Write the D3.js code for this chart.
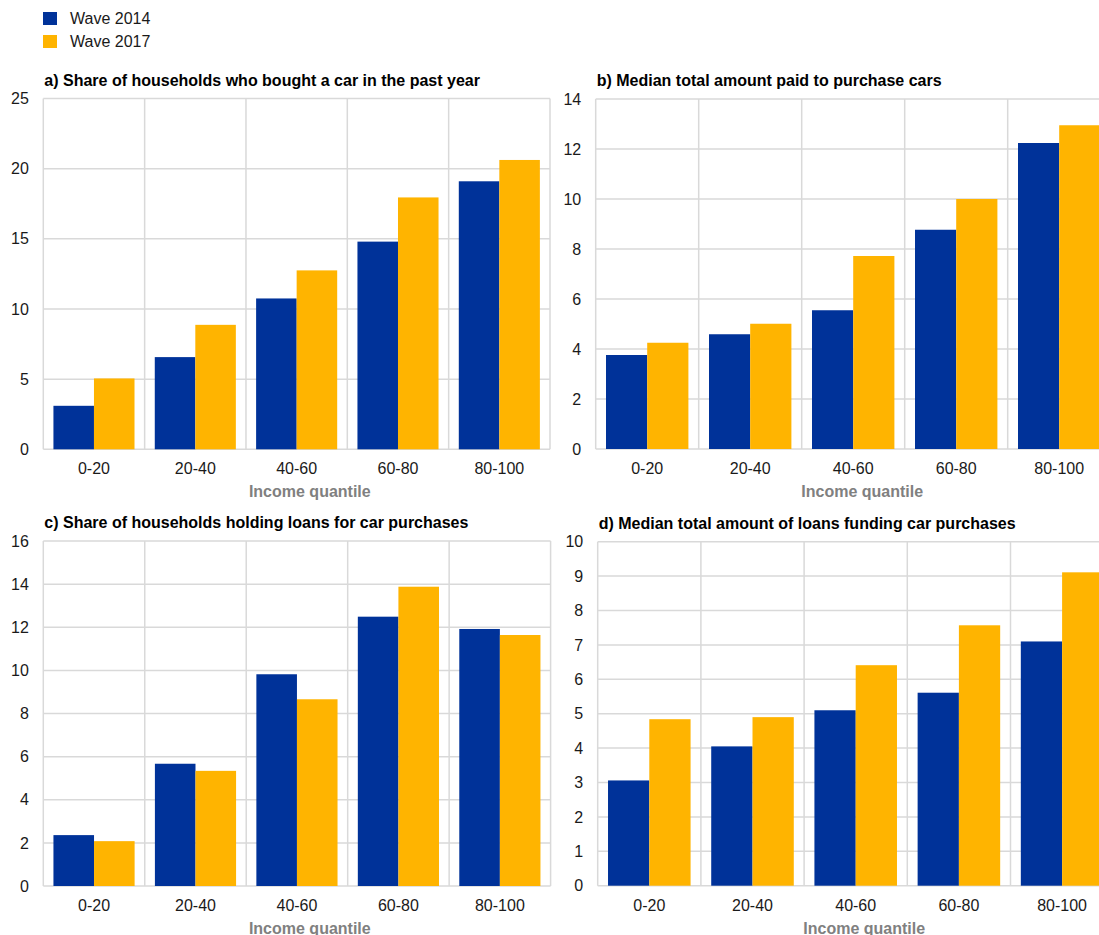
<!DOCTYPE html>
<html><head><meta charset="utf-8">
<script src="https://cdn.jsdelivr.net/npm/d3@7"></script>
<style>
body{margin:0;background:#fff}
svg{display:block;font-family:"Liberation Sans",Arial,sans-serif}
</style></head>
<body><svg id="chart" width="1099" height="935"></svg>
<script>
// ---- data ----
const categories = ["0-20", "20-40", "40-60", "60-80", "80-100"];
const seriesNames = ["Wave 2014", "Wave 2017"];
const seriesColors = ["#003299", "#FFB400"];

const aWave2014 = [3.1, 6.57, 10.75, 14.8, 19.1];
const aWave2017 = [5.05, 8.87, 12.75, 17.95, 20.62];

const bWave2014 = [3.76, 4.59, 5.55, 8.77, 12.24];
const bWave2017 = [4.25, 5.01, 7.72, 10.0, 12.95];

const cWave2014 = [2.36, 5.67, 9.82, 12.49, 11.92];
const cWave2017 = [2.08, 5.34, 8.66, 13.88, 11.64];

const dWave2014 = [3.06, 4.05, 5.1, 5.61, 7.1];
const dWave2017 = [4.84, 4.9, 6.41, 7.57, 9.11];

const panelTitles = [
  "a) Share of households who bought a car in the past year",
  "b) Median total amount paid to purchase cars",
  "c) Share of households holding loans for car purchases",
  "d) Median total amount of loans funding car purchases"
];
const yMaxes = [25, 14, 16, 10];
const yTickSteps = [5, 2, 2, 1];
const xAxisTitle = "Income quantile";

// ---- layout ----
const panelData = [
  [aWave2014, aWave2017],
  [bWave2014, bWave2017],
  [cWave2014, cWave2017],
  [dWave2014, dWave2017]
];
const boxes = [
  {left: 43.3, top: 98.5, width: 506.7, bottom: 449.3},
  {left: 595.7, top: 99, width: 515, bottom: 449},
  {left: 43.3, top: 541, width: 507.3, bottom: 886},
  {left: 597.7, top: 541.7, width: 516, bottom: 885.7}
];
const FONT = 16;
const gridColor = "#d9d9d9";

const svg = d3.select("#chart");

// legend
const legend = svg.append("g");
seriesNames.forEach((s, i) => {
  const g = legend.append("g").attr("transform", `translate(43,${12 + i * 23})`);
  g.append("rect").attr("width", 14).attr("height", 13).attr("fill", seriesColors[i]);
  g.append("text").attr("x", 27).attr("y", 12).attr("font-size", FONT)
    .attr("fill", "#1a1a1a").text(s);
});

panelData.forEach((vals, p) => {
  const b = boxes[p];
  const g = svg.append("g").attr("transform", `translate(${b.left},${b.top})`);
  const h = b.bottom - b.top;
  const x0 = d3.scaleBand().domain(categories).range([0, b.width]).padding(0);
  const x1 = d3.scaleBand().domain(seriesNames).range([0, x0.bandwidth()])
    .paddingInner(0).paddingOuter(0.25);
  const y = d3.scaleLinear().domain([0, yMaxes[p]]).range([h, 0]);
  const ticks = d3.range(0, yMaxes[p] + yTickSteps[p] / 2, yTickSteps[p]);

  // horizontal gridlines
  g.append("g").selectAll("line").data(ticks).join("line")
    .attr("x1", 0).attr("x2", b.width)
    .attr("y1", d => y(d)).attr("y2", d => y(d))
    .attr("stroke", gridColor).attr("stroke-width", 1.5);
  // vertical gridlines (category boundaries)
  const bounds = categories.map(c => x0(c)).concat([b.width]);
  g.append("g").selectAll("line").data(bounds).join("line")
    .attr("x1", d => d).attr("x2", d => d)
    .attr("y1", 0).attr("y2", h)
    .attr("stroke", gridColor).attr("stroke-width", 1.5);

  // bars
  seriesNames.forEach((s, si) => {
    g.append("g").selectAll("rect").data(vals[si]).join("rect")
      .attr("x", (d, i) => x0(categories[i]) + x1(s))
      .attr("width", x1.bandwidth())
      .attr("y", d => y(d))
      .attr("height", d => h - y(d))
      .attr("fill", seriesColors[si]);
  });

  // y axis labels
  const ya = g.append("g").call(d3.axisLeft(y).tickValues(ticks).tickSize(0).tickPadding(14.5));
  ya.select(".domain").remove();
  ya.selectAll("text").attr("font-size", FONT).attr("font-family", null).attr("fill", "#1a1a1a");

  // x axis labels
  const xa = g.append("g").attr("transform", `translate(0,${h})`)
    .call(d3.axisBottom(x0).tickSize(0).tickPadding(13.6));
  xa.select(".domain").remove();
  xa.selectAll("text").attr("font-size", FONT).attr("font-family", null).attr("fill", "#1a1a1a");

  // axis title
  g.append("text").attr("x", 266.5).attr("y", h + 48)
    .attr("text-anchor", "middle").attr("font-size", FONT).attr("font-weight", "bold")
    .attr("fill", "#808080").text(xAxisTitle);

  // panel title
  g.append("text").attr("x", 1).attr("y", -13)
    .attr("font-size", FONT).attr("font-weight", "bold").attr("fill", "#000")
    .text(panelTitles[p]);
});
</script>
</body></html>
